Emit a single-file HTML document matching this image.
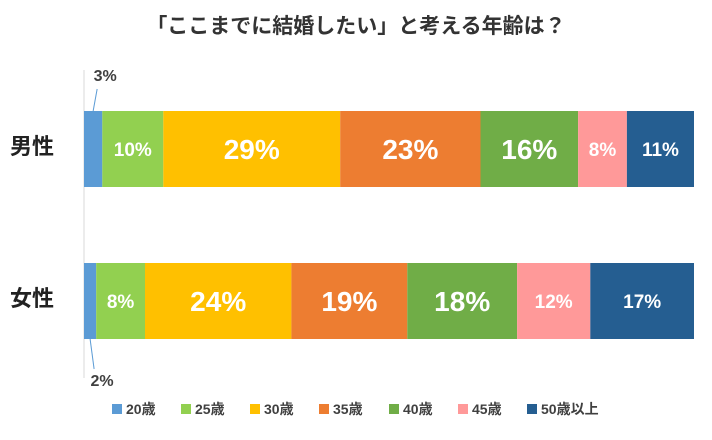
<!DOCTYPE html>
<html><head><meta charset="utf-8">
<style>
body{margin:0;background:#fff;}
svg text{font-family:"Liberation Sans","Noto Sans CJK JP",sans-serif;font-weight:bold;}
</style></head>
<body>
<svg id="chart" width="712" height="435" viewBox="0 0 712 435">
<text x="356" y="33" text-anchor="middle" font-size="21" fill="#333">「ここまでに結婚したい」と考える年齢は？</text>
<line x1="84" y1="70" x2="84" y2="378" stroke="#d9d9d9" stroke-width="1"/>
<g id="bars"></g>
<g id="legend"></g>
</svg>
<script>
const categories=["男性","女性"];
const seriesNames=["20歳","25歳","30歳","35歳","40歳","45歳","50歳以上"];
const maleValues=[3,10,29,23,16,8,11];
const femaleValues=[2,8,24,19,18,12,17];
const colors=["#5B9BD5","#92D050","#FFC000","#ED7D31","#70AD47","#FF9999","#255E91"];
const maleBig=[0,0,1,1,1,0,0];
const femaleBig=[0,0,1,1,1,0,0];
const NS="http://www.w3.org/2000/svg";
const x0=84,x1=694,barH=76,rowY=[111,263];
function xs(v){return x0+v/100*(x1-x0);}
const g=document.getElementById('bars');
function mk(tag,attrs,parent){const e=document.createElementNS(NS,tag);for(const k in attrs)e.setAttribute(k,attrs[k]);parent.appendChild(e);return e;}
[maleValues,femaleValues].forEach((vals,r)=>{
  const big=r===0?maleBig:femaleBig;
  const lab=mk('text',{x:10,y:rowY[r]+barH/2+5,'font-size':22,fill:'#222'},g);
  lab.textContent=categories[r];
  
  
  let cum=0;
  vals.forEach((v,i)=>{
    const rect=mk('rect',{x:xs(cum),y:rowY[r],width:xs(cum+v)-xs(cum),height:barH,fill:colors[i]},g);
    
    
    const cx=(xs(cum)+xs(cum+v))/2;
    if(i>0){
      const fs=big[i]?28:19;
      const t=mk('text',{x:cx,y:rowY[r]+barH/2+fs*0.36,'font-size':fs,fill:'#fff','text-anchor':'middle'},g);
      t.textContent=v+'%';
      
      
    } else {
      const up=r===0;
      const ln=mk('line',{x1:cx,y1:up?rowY[r]:rowY[r]+barH,x2:cx+4,y2:up?rowY[r]-22:rowY[r]+barH+30,stroke:'#5B9BD5','stroke-width':1},g);
      
      
      const t=mk('text',{x:cx+12,y:up?rowY[r]-30:rowY[r]+barH+47,'font-size':16,fill:'#404040','text-anchor':'middle'},g);
      t.textContent=v+'%';
      
      
    }
    cum+=v;
  });
});
const lg=document.getElementById('legend');
const lx=[112,181,250,319,389,458,527];
seriesNames.forEach((n,i)=>{
  const s=mk('rect',{x:lx[i],y:404,width:10,height:10,fill:colors[i]},lg);
  
  
  const t=mk('text',{x:lx[i]+14,y:414,'font-size':14,fill:'#404040'},lg);
  t.textContent=n;
  
  
});
</script>
</body></html>
